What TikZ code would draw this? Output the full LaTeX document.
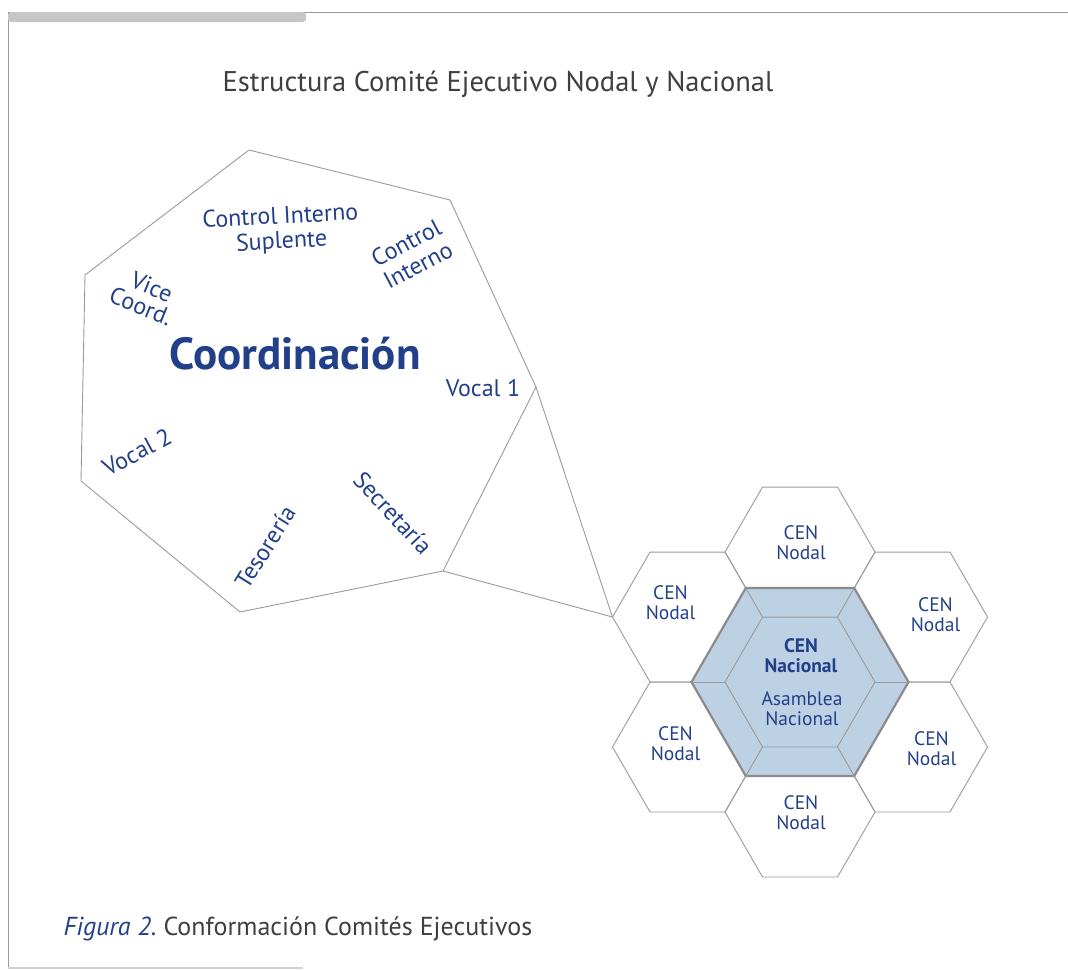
\documentclass[tikz,border=0pt]{standalone}
\usepackage{fontspec}
\setmainfont{PT Sans}
\usetikzlibrary{shapes.geometric, positioning}

\definecolor{cenblue}{HTML}{223F8A}
\definecolor{linegray}{HTML}{9A9A9A}
\definecolor{cenfill}{HTML}{BDD1E5}
\definecolor{titlegray}{HTML}{3F3F3F}

\tikzset{
  hexa/.style={regular polygon, regular polygon sides=6, minimum size=150pt,
    inner sep=0pt, outer sep=0pt, draw=linegray, line width=0.9pt},
  cargo/.style={text=cenblue, font=\fontsize{24}{25}\selectfont, align=center},
  nodal/.style={text=cenblue, font=\fontsize{19.5}{20}\selectfont, align=center},
  link/.style={draw=linegray, line width=0.9pt}
}

\begin{document}
\begin{tikzpicture}[x=1pt, y=-1pt]
  \useasboundingbox (0,0) rectangle (1068,969);

  % page frame
  \draw[linegray, line width=1pt] (8,969) -- (8,12) -- (1068,12);
  \fill[gray!45, rounded corners=3pt] (8,12) rectangle (306,22);
  \draw[gray!35, line width=2pt] (8,968) -- (303,968);

  \node[font=\fontsize{28.5}{30}\selectfont, text=titlegray, anchor=base] (title)
    at (498,91) {Estructura Comité Ejecutivo Nodal y Nacional};

  % comite nodal
  \coordinate (h1) at (249,150);
  \coordinate (h2) at (450,200);
  \coordinate (h3) at (536,387);
  \coordinate (h4) at (443,571);
  \coordinate (h5) at (240,612);
  \coordinate (h6) at (81,481);
  \coordinate (h7) at (85,275);
  \draw[link] (h1) -- (h2) -- (h3) -- (h4) -- (h5) -- (h6) -- (h7) -- cycle;

  \node[cargo, rotate=3] (cis) at (281,230) {Control Interno\\Suplente};
  \node[cargo, rotate=28] (ci) at (412,254) {Control\\Interno};
  \node[cargo, rotate=-22, font=\fontsize{24}{22}\selectfont] (vc) at (145,296) {\hspace*{6pt}Vice\\Coord.};
  \node[text=cenblue, font=\bfseries\fontsize{45}{46}\selectfont, anchor=base] (coord)
    at (295,369) {Coordinación};
  \node[cargo, anchor=base] (v1) at (483,396) {Vocal 1};
  \node[cargo, rotate=28] (v2) at (137,452) {Vocal 2};
  \node[cargo, rotate=58] (tes) at (265,547) {Tesorería};
  \node[cargo, rotate=-47] (sec) at (393,513) {Secretaría};

  % panal nacional
  \coordinate (mid) at (800,682);
  \node[hexa] (n1) at ([yshift=130pt]mid) {};
  \node[hexa] (n2) at ([xshift=-112.5pt, yshift=65pt]mid) {};
  \node[hexa] (n3) at ([xshift=112.5pt, yshift=65pt]mid) {};
  \node[hexa] (n4) at ([xshift=-112.5pt, yshift=-65pt]mid) {};
  \node[hexa] (n5) at ([xshift=112.5pt, yshift=-65pt]mid) {};
  \node[hexa] (n6) at ([yshift=-130pt]mid) {};

  \node[hexa, minimum size=217pt, fill=cenfill, draw=linegray!90!black, line width=2.2pt]
    (nac) at (mid) {};
  \node[hexa] (asam) at (mid) {};
  \foreach \i in {1,...,6}
    \draw[link] (asam.corner \i) -- (nac.corner \i);

  \draw[link] (h3) -- (n2.west);
  \draw[link] (h4) -- (n2.west);

  \node[nodal] (t1) at ([xshift=1pt, yshift=9pt]n1.center) {CEN\\Nodal};
  \node[nodal] (t2) at ([xshift=-17pt, yshift=14pt]n2.center) {CEN\\Nodal};
  \node[nodal] (t3) at ([xshift=23pt, yshift=2pt]n3.center) {CEN\\Nodal};
  \node[nodal] (t4) at ([xshift=-12pt, yshift=3pt]n4.center) {CEN\\Nodal};
  \node[nodal] (t5) at ([xshift=19pt, yshift=-2pt]n5.center) {CEN\\Nodal};
  \node[nodal] (t6) at ([xshift=1pt, yshift=-1pt]n6.center) {CEN\\Nodal};

  \node[nodal, font=\bfseries\fontsize{19.5}{20}\selectfont] (cenn)
    at ([xshift=1pt, yshift=26pt]nac.center) {CEN\\Nacional};
  \node[nodal] (asamt) at ([xshift=2pt, yshift=-27pt]nac.center) {Asamblea\\Nacional};

  \node[anchor=base west, font=\fontsize{26}{28}\selectfont, text=titlegray] (cap)
    at (60,935) {\textcolor{cenblue}{\itshape Figura 2.}\ Conformación Comités Ejecutivos};
\end{tikzpicture}
\end{document}
